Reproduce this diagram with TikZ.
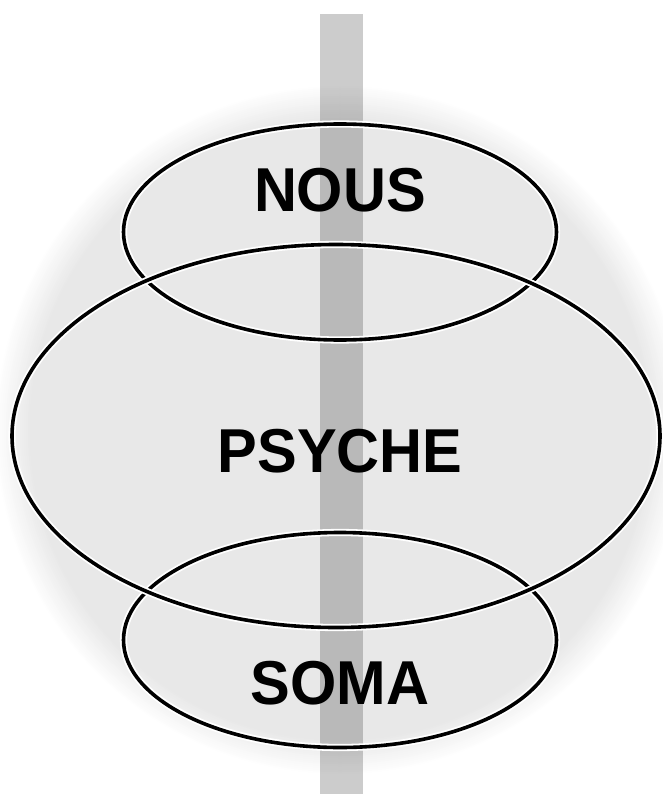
\documentclass[tikz,border=0pt]{standalone}
\usepackage{fontspec}
\setmainfont{Liberation Sans}
\newfontfamily\wordfont[FakeStretch=0.96]{Liberation Sans}
\usetikzlibrary{shapes.geometric}
\tikzset{
    ring/.style={ellipse, draw=white, line width=1.8pt, double=black, double distance=3.6pt, inner sep=0pt},
    word/.style={font=\wordfont\fontsize{62}{70}\selectfont\bfseries}
}
\begin{document}
\begin{tikzpicture}[x=1pt,y=-1pt]
    \useasboundingbox (0,0) rectangle (662,794);
    % soft grey halo behind everything
    \foreach \i in {1,...,18}
        \fill[gray!\i] (340,430) circle[radius=346-2*\i];
    \fill[black, opacity=0.2] (320,14) rectangle (363,794);

    \node[ring, minimum width=433, minimum height=216] (nous) at (340,232) {};
    \node[ring, minimum width=433, minimum height=215] (soma) at (340,640) {};
    \node[ring, minimum width=648, minimum height=383] (psyche) at (336,436) {};

    \node[word] (nousText) at (340,190) {NOUS};
    \node[word] (psycheText) at (340,451) {PSYCHE};
    \node[word] (somaText) at (340,683) {SOMA};
\end{tikzpicture}
\end{document}
